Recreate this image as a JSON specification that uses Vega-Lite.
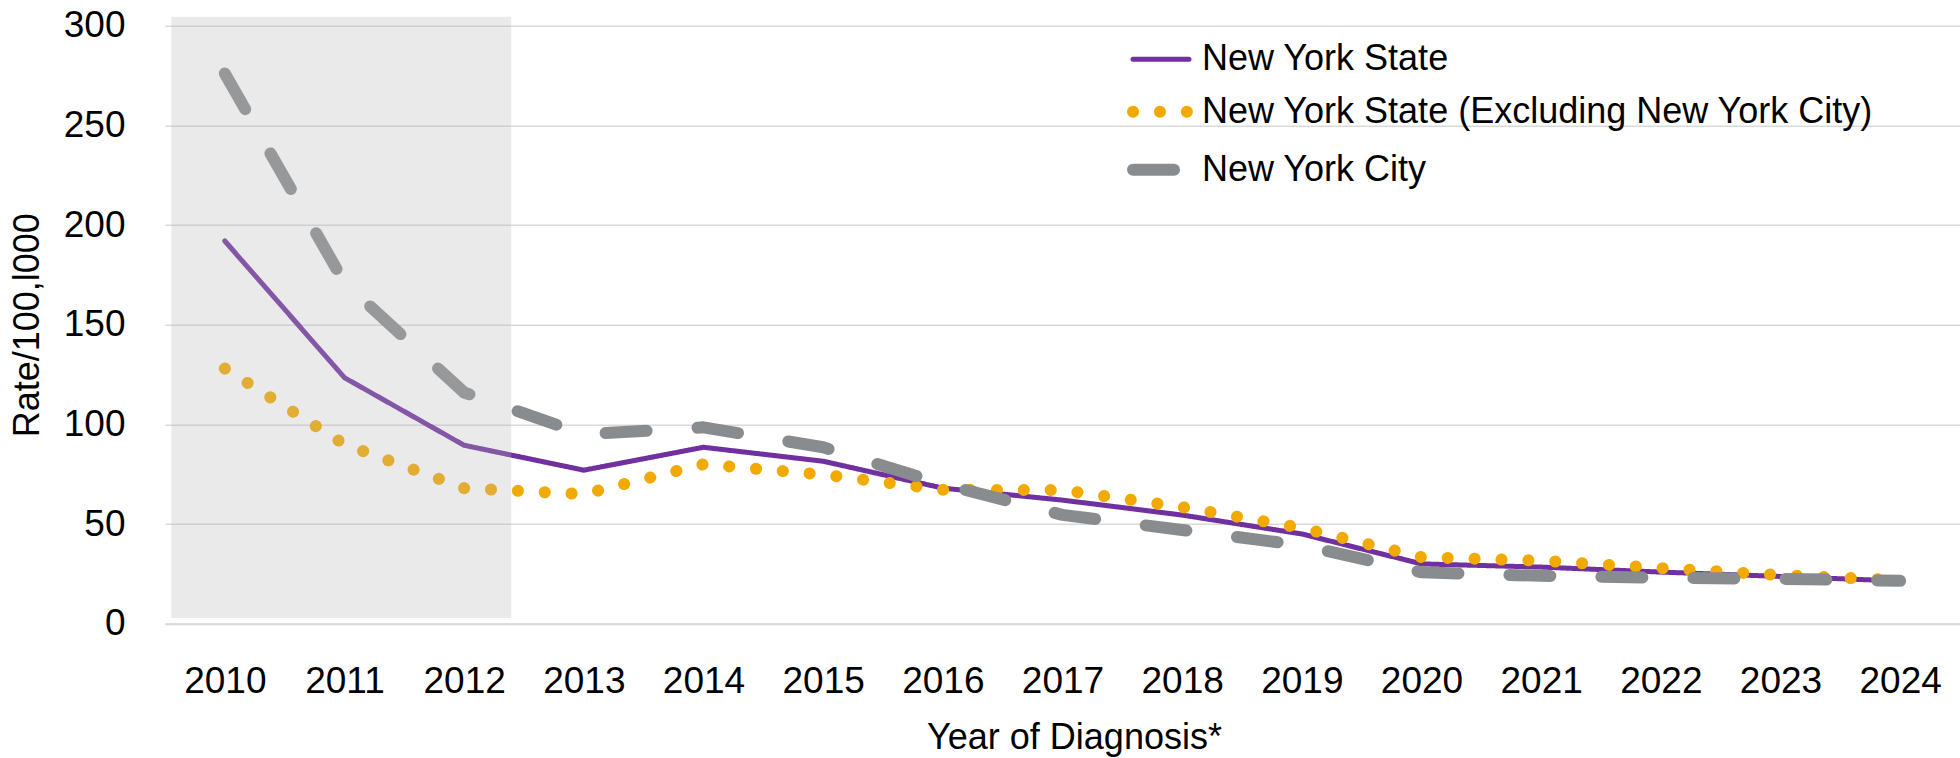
{
  "$schema": "https://vega.github.io/schema/vega-lite/v6.json",
  "width": 1795,
  "height": 598,
  "autosize": {"type": "none"},
  "padding": {"left": 165, "top": 25.7, "right": 0, "bottom": 134.3},
  "background": "white",
  "config": {"font": "Liberation Sans", "view": {"stroke": null}},
  "datasets": {
    "rates": [
      {"year": 2010, "series": "New York State", "rate": 192},
      {"year": 2011, "series": "New York State", "rate": 123.4},
      {"year": 2012, "series": "New York State", "rate": 89.5},
      {"year": 2013, "series": "New York State", "rate": 77},
      {"year": 2014, "series": "New York State", "rate": 88.5},
      {"year": 2015, "series": "New York State", "rate": 81.5},
      {"year": 2016, "series": "New York State", "rate": 68},
      {"year": 2017, "series": "New York State", "rate": 62},
      {"year": 2018, "series": "New York State", "rate": 54.5},
      {"year": 2019, "series": "New York State", "rate": 45},
      {"year": 2020, "series": "New York State", "rate": 30},
      {"year": 2021, "series": "New York State", "rate": 28.4},
      {"year": 2022, "series": "New York State", "rate": 25.9},
      {"year": 2023, "series": "New York State", "rate": 23.7},
      {"year": 2024, "series": "New York State", "rate": 21.4},
      {"year": 2010, "series": "New York State (Excluding New York City)", "rate": 128},
      {"year": 2011, "series": "New York State (Excluding New York City)", "rate": 90},
      {"year": 2012, "series": "New York State (Excluding New York City)", "rate": 68},
      {"year": 2013, "series": "New York State (Excluding New York City)", "rate": 65},
      {"year": 2014, "series": "New York State (Excluding New York City)", "rate": 80},
      {"year": 2015, "series": "New York State (Excluding New York City)", "rate": 74.8},
      {"year": 2016, "series": "New York State (Excluding New York City)", "rate": 67.2},
      {"year": 2017, "series": "New York State (Excluding New York City)", "rate": 67},
      {"year": 2018, "series": "New York State (Excluding New York City)", "rate": 58.5},
      {"year": 2019, "series": "New York State (Excluding New York City)", "rate": 48},
      {"year": 2020, "series": "New York State (Excluding New York City)", "rate": 33.4},
      {"year": 2021, "series": "New York State (Excluding New York City)", "rate": 31.6},
      {"year": 2022, "series": "New York State (Excluding New York City)", "rate": 27.9},
      {"year": 2023, "series": "New York State (Excluding New York City)", "rate": 24.4},
      {"year": 2024, "series": "New York State (Excluding New York City)", "rate": 21.8},
      {"year": 2010, "series": "New York City", "rate": 276},
      {"year": 2011, "series": "New York City", "rate": 171},
      {"year": 2012, "series": "New York City", "rate": 116},
      {"year": 2013, "series": "New York City", "rate": 95},
      {"year": 2014, "series": "New York City", "rate": 98.5},
      {"year": 2015, "series": "New York City", "rate": 88.5},
      {"year": 2016, "series": "New York City", "rate": 70},
      {"year": 2017, "series": "New York City", "rate": 54.6},
      {"year": 2018, "series": "New York City", "rate": 47},
      {"year": 2019, "series": "New York City", "rate": 39.3},
      {"year": 2020, "series": "New York City", "rate": 25.8},
      {"year": 2021, "series": "New York City", "rate": 24},
      {"year": 2022, "series": "New York City", "rate": 23},
      {"year": 2023, "series": "New York City", "rate": 22.5},
      {"year": 2024, "series": "New York City", "rate": 21.5}
    ],
    "shade": [
      {"period": "2010-2012", "start": 2009.553, "end": 2012.393, "low": 2.8, "high": 304.5}
    ]
  },
  "layer": [
    {
      "data": {"name": "rates"},
      "encoding": {
        "x": {
          "field": "year",
          "type": "quantitative",
          "scale": {"domain": [2009.5, 2024.5], "nice": false, "zero": false},
          "axis": {
            "values": [2010, 2011, 2012, 2013, 2014, 2015, 2016, 2017, 2018, 2019, 2020, 2021, 2022, 2023, 2024],
            "format": "d",
            "grid": false,
            "ticks": false,
            "tickSize": 0,
            "domain": true,
            "domainColor": "#d9d9d9",
            "domainWidth": 2,
            "labelFontSize": 37,
            "labelColor": "#000000",
            "labelPadding": 39.5,
            "labelFlush": false,
            "labelOverlap": false,
            "title": "Year of Diagnosis*",
            "titleFontSize": 36,
            "titleFontWeight": "normal",
            "titleColor": "#000000",
            "titleX": 909,
            "titleY": 125,
            "titleAlign": "center",
            "titleBaseline": "alphabetic"
          }
        },
        "y": {
          "field": "rate",
          "type": "quantitative",
          "scale": {"domain": [0, 300], "nice": false},
          "axis": {
            "values": [0, 50, 100, 150, 200, 250, 300],
            "grid": true,
            "gridColor": "#d9d9d9",
            "gridWidth": 1.5,
            "domain": false,
            "ticks": false,
            "tickSize": 0,
            "labelFontSize": 37,
            "labelColor": "#000000",
            "labelPadding": 40,
            "title": "Rate/100,l000",
            "titleFontSize": 36,
            "titleFontWeight": "normal",
            "titleColor": "#000000",
            "titleX": -138,
            "titleY": 299,
            "titleAngle": 270,
            "titleAlign": "center",
            "titleBaseline": "middle"
          }
        },
        "color": {
          "field": "series",
          "type": "nominal",
          "scale": {
            "domain": ["New York State", "New York State (Excluding New York City)", "New York City"],
            "range": ["#7030A0", "#F2A900", "#898C8E"]
          },
          "legend": {
            "orient": "none", "legendX": 962, "legendY": 3, "title": null,
            "symbolType": "stroke", "symbolSize": 3136,
            "labelFontSize": 36, "labelColor": "#000000", "labelLimit": 1000,
            "labelOffset": 7, "rowPadding": -4, "padding": 0,
            "encoding": {"symbols": {"strokeCap": {"value": "round"}}}
          }
        },
        "strokeDash": {
          "field": "series",
          "type": "nominal",
          "scale": {
            "domain": ["New York State", "New York State (Excluding New York City)", "New York City"],
            "range": [[1, 0], [0.1, 26.8], [41, 51]]
          },
          "legend": {
            "orient": "none", "legendX": 962, "legendY": 3, "title": null,
            "symbolType": "stroke", "symbolSize": 3136,
            "labelFontSize": 36, "labelColor": "#000000", "labelLimit": 1000,
            "labelOffset": 7, "rowPadding": -4, "padding": 0,
            "encoding": {"symbols": {"strokeCap": {"value": "round"}}}
          }
        },
        "strokeWidth": {
          "field": "series",
          "type": "nominal",
          "scale": {
            "type": "ordinal",
            "domain": ["New York State", "New York State (Excluding New York City)", "New York City"],
            "range": [5, 12, 12]
          },
          "legend": {
            "orient": "none", "legendX": 962, "legendY": 3, "title": null,
            "symbolType": "stroke", "symbolSize": 3136,
            "labelFontSize": 36, "labelColor": "#000000", "labelLimit": 1000,
            "labelOffset": 7, "rowPadding": -4, "padding": 0,
            "encoding": {"symbols": {"strokeCap": {"value": "round"}}}
          }
        }
      },
      "layer": [
        {
          "transform": [{"filter": "datum.series === 'New York State'"}],
          "mark": {"type": "line", "strokeCap": "round", "strokeJoin": "round"}
        },
        {
          "transform": [{"filter": "datum.series === 'New York State (Excluding New York City)'"}],
          "mark": {"type": "line", "strokeCap": "round", "strokeJoin": "round"}
        },
        {
          "transform": [{"filter": "datum.series === 'New York City'"}],
          "mark": {"type": "line", "strokeCap": "round", "strokeJoin": "round"}
        }
      ]
    },
    {
      "data": {"name": "shade"},
      "mark": {"type": "rect", "fill": "#b6b6b6", "opacity": 0.29, "clip": false},
      "encoding": {
        "x": {
          "field": "start",
          "type": "quantitative",
          "scale": {"domain": [2009.5, 2024.5], "nice": false, "zero": false},
          "axis": {
            "values": [2010, 2011, 2012, 2013, 2014, 2015, 2016, 2017, 2018, 2019, 2020, 2021, 2022, 2023, 2024],
            "format": "d",
            "grid": false,
            "ticks": false,
            "tickSize": 0,
            "domain": true,
            "domainColor": "#d9d9d9",
            "domainWidth": 2,
            "labelFontSize": 37,
            "labelColor": "#000000",
            "labelPadding": 39.5,
            "labelFlush": false,
            "labelOverlap": false,
            "title": "Year of Diagnosis*",
            "titleFontSize": 36,
            "titleFontWeight": "normal",
            "titleColor": "#000000",
            "titleX": 909,
            "titleY": 125,
            "titleAlign": "center",
            "titleBaseline": "alphabetic"
          }
        },
        "x2": {"field": "end"},
        "y": {
          "field": "low",
          "type": "quantitative",
          "scale": {"domain": [0, 300], "nice": false},
          "axis": {
            "values": [0, 50, 100, 150, 200, 250, 300],
            "grid": true,
            "gridColor": "#d9d9d9",
            "gridWidth": 1.5,
            "domain": false,
            "ticks": false,
            "tickSize": 0,
            "labelFontSize": 37,
            "labelColor": "#000000",
            "labelPadding": 40,
            "title": "Rate/100,l000",
            "titleFontSize": 36,
            "titleFontWeight": "normal",
            "titleColor": "#000000",
            "titleX": -138,
            "titleY": 299,
            "titleAngle": 270,
            "titleAlign": "center",
            "titleBaseline": "middle"
          }
        },
        "y2": {"field": "high"}
      }
    }
  ]
}
